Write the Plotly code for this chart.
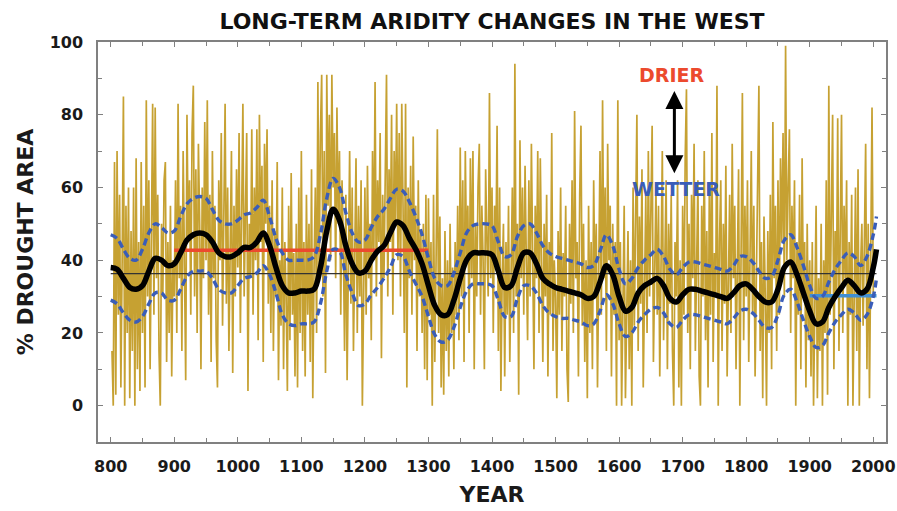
import numpy as np
import plotly.graph_objects as go

# ---------------- data ----------------
# annual-ish reconstruction (read every 2 years, 802..2000)
gold_years = list(range(802, 2001, 2))
gold_vals = [
    15, 0, 67, 3, 70, 25, 58, 5, 40, 85, 0, 55, 20, 60, 2, 48, 15, 60, 0, 68, 10, 45, 4, 67, 20,
    55, 5, 84, 30, 62, 10, 45, 83, 25, 82, 35, 58, 15, 0, 50, 30, 62, 67, 12, 45, 20, 55, 8, 40, 30,
    62, 20, 83, 35, 55, 15, 70, 40, 7, 80, 45, 62, 25, 75, 88, 30, 65, 20, 72, 50, 10, 60, 35, 78, 40,
    84, 25, 58, 12, 70, 35, 55, 18, 5, 62, 40, 75, 22, 50, 83, 28, 60, 15, 45, 70, 9, 55, 30, 65, 38,
    75, 20, 62, 83, 30, 58, 75, 4, 50, 35, 76, 25, 60, 40, 76, 18, 80, 45, 66, 12, 72, 50, 76, 28, 55,
    20, 62, 15, 48, 30, 67, 7, 40, 22, 60, 10, 45, 30, 4, 55, 18, 64, 25, 42, 8, 50, 5, 60, 20, 70,
    15, 45, 8, 58, 25, 50, 12, 65, 2, 38, 60, 20, 89, 35, 75, 91, 30, 70, 9, 91, 55, 80, 40, 91, 60,
    75, 35, 82, 50, 70, 25, 62, 45, 15, 58, 7, 50, 70, 28, 60, 15, 45, 68, 20, 55, 30, 62, 0, 40, 60,
    25, 66, 35, 50, 18, 70, 40, 89, 30, 62, 45, 75, 13, 58, 35, 72, 91, 30, 65, 45, 80, 25, 70, 50, 83,
    40, 75, 30, 83, 55, 20, 83, 5, 60, 35, 66, 25, 74, 40, 55, 15, 62, 30, 48, 20, 50, 10, 58, 7, 57,
    25, 45, 0, 58, 12, 40, 76, 20, 52, 5, 35, 3, 48, 15, 40, 8, 50, 20, 38, 10, 45, 25, 55, 18, 71,
    30, 62, 12, 70, 40, 55, 20, 68, 35, 70, 10, 50, 30, 60, 72, 25, 55, 40, 10, 65, 45, 30, 86, 35, 60,
    20, 55, 40, 77, 15, 60, 4, 35, 50, 8, 45, 25, 55, 12, 40, 60, 20, 94, 30, 50, 3, 73, 35, 60, 25,
    66, 40, 18, 62, 30, 72, 45, 10, 55, 35, 70, 20, 68, 40, 12, 50, 30, 58, 8, 45, 25, 75, 15, 40, 30,
    2, 48, 25, 60, 15, 42, 30, 55, 10, 1, 50, 28, 62, 20, 81, 35, 45, 8, 58, 77, 22, 50, 12, 40, 2,
    55, 20, 45, 10, 62, 30, 50, 5, 42, 70, 25, 84, 35, 60, 15, 72, 40, 55, 8, 50, 25, 45, 0, 84, 18,
    45, 0, 38, 55, 2, 30, 48, 10, 40, 0, 60, 22, 45, 80, 15, 52, 28, 65, 5, 42, 58, 20, 70, 30, 50,
    77, 12, 45, 60, 25, 55, 8, 48, 70, 18, 40, 62, 10, 50, 28, 58, 15, 0, 45, 30, 62, 5, 40, 0, 55,
    25, 68, 87, 20, 50, 10, 58, 35, 72, 15, 45, 62, 8, 0, 55, 30, 70, 18, 48, 5, 60, 25, 75, 12, 42,
    30, 88, 0, 45, 62, 15, 50, 28, 66, 8, 40, 58, 20, 72, 35, 55, 10, 48, 65, 0, 42, 86, 18, 55, 30,
    62, 12, 48, 70, 25, 55, 8, 40, 60, 88, 15, 45, 2, 52, 30, 0, 48, 20, 58, 10, 78, 35, 55, 15, 62,
    25, 68, 45, 75, 30, 99, 40, 60, 76, 20, 55, 35, 62, 0, 45, 25, 58, 10, 68, 30, 45, 5, 50, 18, 40,
    8, 45, 0, 30, 55, 2, 35, 15, 50, 0, 40, 20, 62, 3, 88, 25, 55, 80, 10, 48, 30, 79, 15, 60, 80,
    20, 55, 35, 62, 0, 45, 25, 58, 0, 40, 60, 15, 65, 0, 38, 50, 22, 45, 72, 10, 50, 2, 35, 82, 30,
]

# smoothed series and its uncertainty band (every 10 years, 800..2000, plus 2005)
smooth_years = list(range(800, 2001, 10)) + [2005]
smooth_mid = [
    38, 37.5, 35, 32.5, 32, 33, 37, 40.5, 40, 38.5,
    39, 42, 45.5, 47, 47.5, 47, 45, 42, 41, 41,
    42, 43.5, 43.5, 45, 47.5, 44, 38, 33, 31, 31,
    31.5, 31.5, 32, 38, 48, 54, 51, 44, 39, 36.5,
    37, 40, 42.5, 44, 47.5, 50.5, 49.5, 46, 43, 39,
    33, 27.5, 25, 25, 29, 35, 40, 42, 42, 42,
    41.5, 37, 32.5, 33, 38, 42, 42, 39, 35, 33.5,
    32.5, 32, 31.5, 31, 30.5, 29.5, 30, 34, 38.5, 36,
    30, 26, 27, 31, 33, 34, 35, 33, 29.5, 28.5,
    30.5, 32, 32, 31.5, 31, 30.5, 30, 29.5, 31, 33,
    33.5, 32, 30, 28.5, 28.5, 32, 38, 39.5, 36, 31,
    26, 22.5, 23, 27, 30, 32.5, 34.5, 33, 31, 32,
    38, 43,
]
smooth_upper = [
    47, 46, 43, 40.5, 40, 43, 47.5, 50, 49, 47.5,
    48, 52, 55.5, 57, 57.5, 57, 54, 51, 50, 50,
    51, 52.5, 53, 54.5, 56.5, 52, 46, 42, 40, 40,
    40, 40, 41, 47, 57, 62.5, 60, 53, 47.5, 45,
    45.5, 49, 52, 54, 57, 59.5, 59, 56, 52, 47,
    40.5, 35, 33, 33, 36.5, 42, 47.5, 49.5, 50, 50,
    49.5, 45, 41, 41.5, 46.5, 49.5, 50, 47.5, 44, 42,
    41, 40.5, 40, 39.5, 39, 38, 38.5, 42.5, 47, 44,
    37.5, 33.5, 35, 38, 40, 41.5, 43, 41, 37.5, 36,
    38, 39.5, 39.5, 39, 38.5, 38, 37.5, 37, 38.5, 41,
    41, 39.5, 37, 35, 35.5, 40, 45.5, 47, 43.5, 38.5,
    33, 29.5, 30, 34, 37.5, 40, 42, 41, 38.5, 41,
    47, 52,
]
smooth_lower = [
    29, 28, 25.5, 23.5, 23, 24.5, 28, 31, 31, 29,
    29, 32, 35.5, 37, 37, 37, 35, 32, 31, 31,
    33, 35, 35.5, 36.5, 38.5, 36, 31, 25, 22.5, 22,
    22.5, 22.5, 23, 28, 37, 43, 42.5, 36, 31, 27.5,
    28, 30.5, 32.5, 35, 38, 41.5, 41, 37, 33.5, 30,
    24.5, 19.5, 17.5, 18, 21.5, 27, 31.5, 33.5, 33.5, 33.5,
    33, 29, 24.5, 24.5, 29.5, 33, 33, 31, 27.5, 25.5,
    24.5, 24, 24, 23.5, 23, 22, 22.5, 26, 30.5, 28,
    22.5, 19, 20, 23, 25, 26.5, 27, 25.5, 22.5, 21.5,
    23.5, 25, 25, 24.5, 24, 23.5, 23, 22.5, 24, 26,
    26.5, 25.5, 23.5, 21.5, 21.5, 25, 30.5, 32, 28.5, 23.5,
    19, 16, 16.5, 20, 23, 25, 26.5, 25.5, 23.5, 25,
    30, 35,
]

# period means
longterm_mean = 36.3
longterm_span = [800, 2005]
medieval_mean = 42.7
medieval_span = [900, 1300]
modern_mean = 30.2
modern_span = [1900, 2005]

x_ticks = list(range(800, 2001, 100))
y_ticks = [0, 20, 40, 60, 80, 100]

# ---------------- figure ----------------
FONT = "DejaVu Sans"
GOLD = "#C6A132"
DBLUE = "#3A5DB8"
RED = "#EC4A2E"
LBLUE = "#3F8ED3"
FRAME = "#808080"

fig = go.Figure()

fig.add_trace(go.Scatter(x=gold_years, y=gold_vals, mode="lines",
                         line=dict(color=GOLD, width=1.7), hoverinfo="skip"))

fig.add_trace(go.Scatter(x=longterm_span, y=[longterm_mean] * 2, mode="lines",
                         line=dict(color="#333333", width=1.4)))
fig.add_trace(go.Scatter(x=medieval_span, y=[medieval_mean] * 2, mode="lines",
                         line=dict(color=RED, width=3.5)))
fig.add_trace(go.Scatter(x=modern_span, y=[modern_mean] * 2, mode="lines",
                         line=dict(color=LBLUE, width=3.5)))

for band in (smooth_upper, smooth_lower):
    fig.add_trace(go.Scatter(x=smooth_years, y=band, mode="lines",
                             line=dict(color=DBLUE, width=3.4, dash="7px,4px",
                                       shape="spline", smoothing=1.0)))

fig.add_trace(go.Scatter(x=smooth_years, y=smooth_mid, mode="lines",
                         line=dict(color="black", width=5.5, shape="spline", smoothing=1.0)))

axis_common = dict(
    showgrid=False, zeroline=False, showline=True, linecolor=FRAME, linewidth=1.5,
    mirror="allticks", ticks="inside", ticklen=5, tickwidth=1.2, tickcolor=FRAME,
    automargin=False,
    tickfont=dict(family=FONT, size=16, color="#1a1a1a", weight="bold"),
)

fig.update_xaxes(range=[780, 2020], tickvals=x_ticks, ticklabelstandoff=9,
                 minor=dict(dtick=50, tick0=800, ticks="inside", ticklen=4, tickcolor=FRAME),
                 title=dict(text="YEAR", standoff=12,
                            font=dict(family=FONT, size=22, color="#1a1a1a", weight="bold")),
                 **axis_common)
fig.update_yaxes(range=[-10, 100], tickvals=y_ticks, ticklabelstandoff=10,
                 minor=dict(dtick=10, tick0=0, ticks="inside", ticklen=4, tickcolor=FRAME),
                 title=dict(text="% DROUGHT AREA", standoff=10,
                            font=dict(family=FONT, size=22, color="#1a1a1a", weight="bold")),
                 **axis_common)

fig.add_annotation(x=1687, y=86.5, ax=1687, ay=63.5, xref="x", yref="y", axref="x", ayref="y",
                   text="", showarrow=True, arrowhead=2, arrowside="end+start",
                   arrowsize=1.2, arrowwidth=3, arrowcolor="black")
fig.add_annotation(x=1683, y=91, xref="x", yref="y", text="DRIER", showarrow=False,
                   font=dict(family=FONT, size=19, color=RED, weight="bold"))
fig.add_annotation(x=1690, y=59.5, xref="x", yref="y", text="WETTER", showarrow=False,
                   font=dict(family=FONT, size=19, color=DBLUE, weight="bold"))

fig.update_layout(
    width=897, height=511,
    margin=dict(l=98, r=11, t=42, b=69, autoexpand=False),
    paper_bgcolor="white", plot_bgcolor="white",
    showlegend=False,
    title=dict(text="LONG-TERM ARIDITY CHANGES IN THE WEST", x=0.5, xref="paper",
               y=1 - 21.5 / 511, yref="container", yanchor="middle", xanchor="center",
               font=dict(family=FONT, size=22, color="#111111", weight="bold")),
)

fig.write_html("out.html")
